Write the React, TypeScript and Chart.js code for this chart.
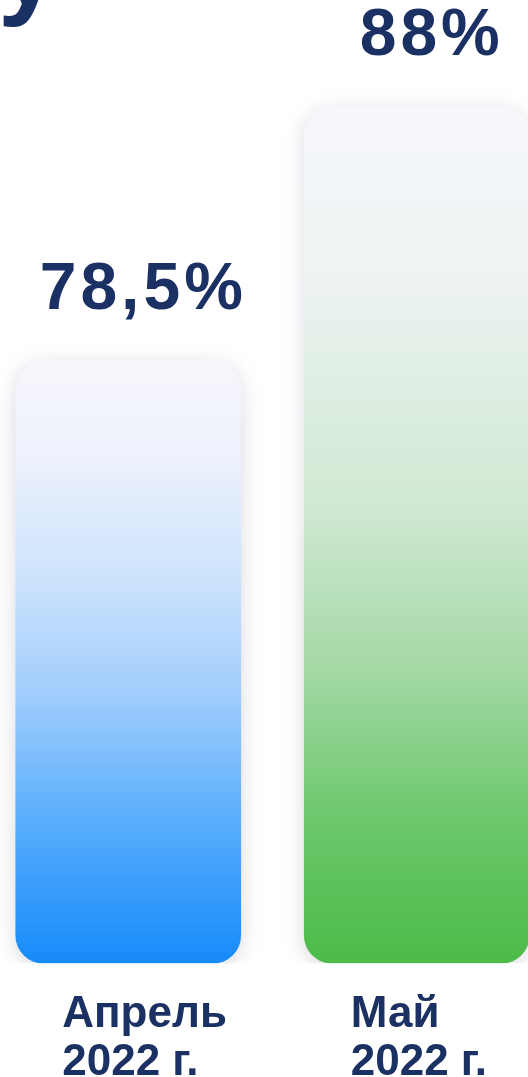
import React, { useEffect, useRef } from "react";
import { Chart, registerables } from "chart.js";

Chart.register(...registerables);

const categories: string[][] = [["Апрель", "2022 г."], ["Май", "2022 г."]];
const values: number[] = [78.5, 88];
const valueLabels: string[] = ["78,5%", "88%"];
const yMin = 56;
const yMax = 92;
const titleFragment = "у";

const NAVY = "#1b3163";
const gradientStops: [number, string][][] = [
  [
    [0, "#f7f6fc"],
    [0.15, "#eef2fc"],
    [0.35, "#cfe4fc"],
    [0.55, "#a2cdfc"],
    [0.76, "#5aaefc"],
    [1, "#168afa"],
  ],
  [
    [0, "#f6f7fa"],
    [0.19, "#eef3f3"],
    [0.48, "#cde8d0"],
    [0.66, "#a3d8a4"],
    [0.83, "#6cc86c"],
    [1, "#4cbb48"],
  ],
];

const FONT = "'Liberation Sans', Arial, sans-serif";

const decorPlugin = {
  id: "decor",
  beforeDatasetsDraw(chart: any) {
    const c = chart.ctx;
    c.save();
    c.shadowColor = "rgba(70,60,100,0.20)";
    c.shadowBlur = 20;
    c.shadowOffsetY = 4;
  },
  afterDatasetsDraw(chart: any) {
    const c = chart.ctx;
    c.restore();
    const meta = chart.getDatasetMeta(0);
    c.save();
    c.fillStyle = NAVY;
    c.font = `bold 66px ${FONT}`;
    (c as any).letterSpacing = "4px";
    c.textAlign = "center";
    c.textBaseline = "alphabetic";
    meta.data.forEach((bar: any, i: number) => {
      c.fillText(valueLabels[i], bar.x + 15, bar.y - 52);
    });
    (c as any).letterSpacing = "0px";
    c.font = `bold 110px ${FONT}`;
    c.textAlign = "left";
    c.fillText(titleFragment, 14, 4);
    c.restore();
  },
};

export default function App() {
  const ref = useRef<HTMLCanvasElement>(null);
  useEffect(() => {
    if (!ref.current) return;
    const chart = new Chart(ref.current, {
      type: "bar",
      data: {
        labels: categories,
        datasets: [
          {
            data: values.map((v) => [yMin, v]),
            barThickness: 225,
            borderRadius: 28,
            borderSkipped: false,
            backgroundColor: (ctx: any) => {
              const chart = ctx.chart;
              if (!chart.chartArea || ctx.type !== "data") return "#cfe4fc";
              const ys = chart.scales.y;
              const top = ys.getPixelForValue(values[ctx.dataIndex]);
              const bottom = ys.getPixelForValue(yMin);
              const g = chart.ctx.createLinearGradient(0, top, 0, bottom);
              gradientStops[ctx.dataIndex].forEach(([o, col]) => g.addColorStop(o, col));
              return g;
            },
          },
        ],
      },
      options: {
        animation: false,
        responsive: false,
        maintainAspectRatio: false,
        layout: { padding: 0 },
        plugins: { legend: { display: false }, tooltip: { enabled: false } },
        scales: {
          x: {
            grid: { display: false, drawTicks: false },
            border: { display: false },
            ticks: {
              align: "start",
              labelOffset: -66,
              padding: 27,
              color: NAVY,
              font: { family: FONT, size: 44, weight: "bold", lineHeight: 1.1 },
            },
          },
          y: {
            display: false,
            min: yMin,
            max: yMax,
          },
        },
      },
      plugins: [decorPlugin],
    });
    return () => chart.destroy();
  }, []);
  return (
    <div
      style={{
        position: "fixed",
        left: 0,
        top: 0,
        width: 528,
        height: 1077,
        overflow: "hidden",
        background: "#ffffff",
      }}
    >
      <canvas
        ref={ref}
        width={596}
        height={1114}
        style={{ position: "absolute", left: -16, top: 0, width: 596, height: 1114 }}
      />
    </div>
  );
}
